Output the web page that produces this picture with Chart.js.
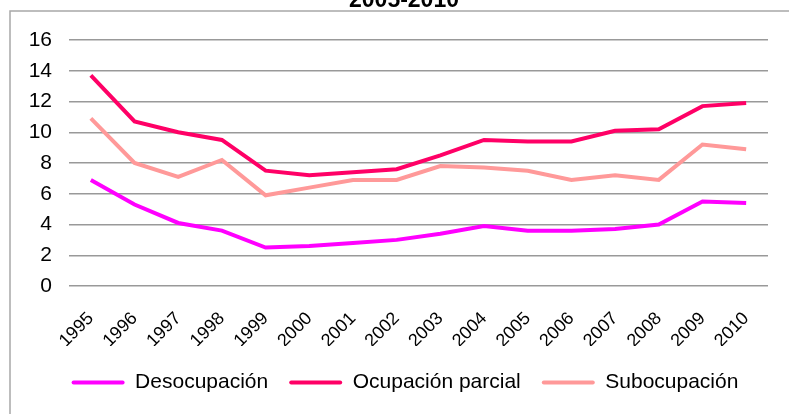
<!DOCTYPE html>
<html>
<head>
<meta charset="utf-8">
<script src="https://cdn.jsdelivr.net/npm/chart.js@4"></script>
<style>
  html, body { margin: 0; padding: 0; background: #fff; }
  #wrap { width: 789px; height: 414px; position: relative; }
</style>
</head>
<body>
<div id="wrap"><canvas id="chart"></canvas></div>
<script>
// ========================================
// DATA
// ========================================
const years = ["1995", "1996", "1997", "1998", "1999", "2000", "2001", "2002",
  "2003", "2004", "2005", "2006", "2007", "2008", "2009", "2010"];
const desocupacion = [6.9, 5.3, 4.1, 3.6, 2.5, 2.6, 2.8, 3.0, 3.4, 3.9, 3.6, 3.6, 3.7, 4.0, 5.5, 5.4];
const ocupacionParcial = [13.7, 10.7, 10.0, 9.5, 7.5, 7.2, 7.4, 7.6, 8.5, 9.5, 9.4, 9.4, 10.1, 10.2, 11.7, 11.9];
const subocupacion = [10.9, 8.0, 7.1, 8.2, 5.9, 6.4, 6.9, 6.9, 7.8, 7.7, 7.5, 6.9, 7.2, 6.9, 9.2, 8.9];
const titleText = "2005-2010";

const FONT = "'Liberation Sans', Arial, sans-serif";

// ========================================
// FRAME + CLIPPED TITLE + LEGEND TWEAKS
// ========================================
const framePlugin = {
  id: "frame",
  beforeInit(chart) {
    const legend = chart.legend;
    // shrink the legend box so it sits close to the bottom edge
    const origFit = legend.fit;
    legend.fit = function () {
      origFit.call(this);
      this.height = 68;
    };
    // legend is centred on the frame, not the plot
    const origDraw = legend.draw;
    legend.draw = function (area) {
      this.ctx.save();
      this.ctx.translate(21, 5);
      origDraw.call(this, area);
      this.ctx.restore();
    };
  },
  beforeDraw(chart) {
    const ctx = chart.ctx;
    ctx.save();
    ctx.strokeStyle = "#a8a8a8";
    ctx.lineWidth = 1.5;
    ctx.beginPath();
    ctx.moveTo(10, chart.height);
    ctx.lineTo(10, 11);
    ctx.lineTo(chart.width, 11);
    ctx.stroke();
    ctx.fillStyle = "#000";
    ctx.font = "bold 23px " + FONT;
    ctx.textAlign = "center";
    ctx.textBaseline = "alphabetic";
    ctx.fillText(titleText, 404, 7);
    ctx.restore();
  },
};

const line = (label, data, color) => ({
  label,
  data,
  borderColor: color,
  backgroundColor: color,
  borderWidth: 4,
  pointRadius: 0,
  tension: 0,
  fill: false,
});

new Chart(document.getElementById("chart"), {
  type: "line",
  data: {
    labels: years,
    datasets: [
      line("Desocupación", desocupacion, "#ff00ff"),
      line("Ocupación parcial", ocupacionParcial, "#ff0066"),
      line("Subocupación", subocupacion, "#ff9999"),
    ],
  },
  options: {
    responsive: true,
    maintainAspectRatio: false,
    animation: false,
    layout: { padding: { top: 40, right: 21, bottom: 0, left: 0 } },
    plugins: {
      legend: {
        position: "bottom",
        labels: {
          boxWidth: 53,
          boxHeight: 4,
          padding: 21,
          useBorderRadius: true,
          borderRadius: 2,
          color: "#000",
          font: { family: FONT, size: 21 },
          // plain filled bar, no thick outline
          generateLabels: (chart) =>
            Chart.defaults.plugins.legend.labels
              .generateLabels(chart)
              .map((item) => ({ ...item, lineWidth: 0 })),
        },
      },
      tooltip: { enabled: false },
    },
    scales: {
      x: {
        offset: true,
        grid: { display: false },
        border: { display: false },
        ticks: {
          autoSkip: false,
          maxRotation: 45,
          minRotation: 45,
          color: "#000",
          padding: 14,
          font: { family: FONT, size: 18 },
        },
        afterFit: (scale) => { scale.height = 60; },
      },
      y: {
        min: 0,
        max: 16,
        ticks: {
          stepSize: 2,
          color: "#000",
          padding: 17,
          font: { family: FONT, size: 21 },
        },
        grid: { color: "#999", lineWidth: 1.5, drawTicks: false },
        border: { display: false },
        afterFit: (scale) => { scale.width = 69; },
      },
    },
  },
  plugins: [framePlugin],
});
</script>
</body>
</html>
